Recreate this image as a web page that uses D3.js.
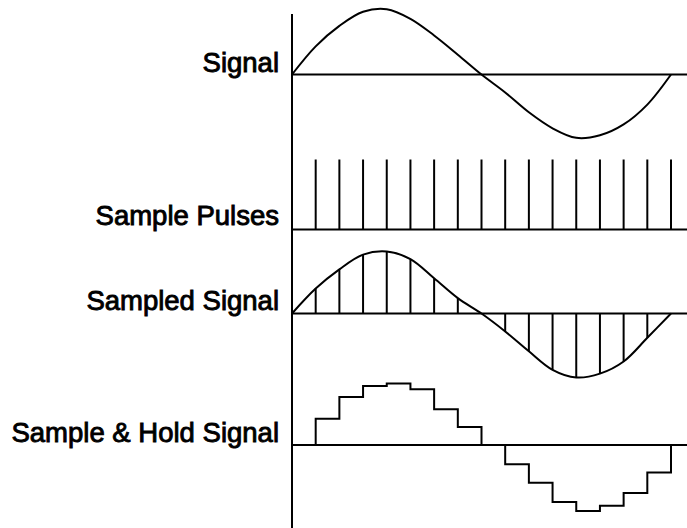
<!DOCTYPE html>
<html>
<head>
<meta charset="utf-8">
<script src="https://cdn.jsdelivr.net/npm/d3@7"></script>
<style>
  body { margin: 0; background: #fff; }
  text { font-family: "Liberation Sans", Arial, sans-serif; }
</style>
</head>
<body>
<div id="chart"></div>
<script>
// sample positions (one period split in 16 steps)
const steps = [0, 1, 2, 3, 4, 5, 6, 7, 8, 9, 10, 11, 12, 13, 14, 15, 16];

// values, 1 = peak amplitude
const signalValues = [0, 0.44, 0.76, 0.98, 1.02, 0.87, 0.61, 0.31, 0, -0.28, -0.59, -0.84, -0.99, -0.95, -0.78, -0.47, 0];
const sampledValues = [0, 0.39, 0.69, 0.92, 0.97, 0.85, 0.55, 0.24, 0, -0.28, -0.59, -0.88, -1.0, -0.94, -0.75, -0.38, 0];
const holdValues = [0, 0.41, 0.75, 0.92, 0.96, 0.87, 0.56, 0.28, 0, -0.30, -0.59, -0.89, -1.03, -0.95, -0.75, -0.43, 0];
const pulseSteps = [1, 2, 3, 4, 5, 6, 7, 8, 9, 10, 11, 12, 13, 14, 15, 16];

const labels = ["Signal", "Sample Pulses", "Sampled Signal", "Sample & Hold Signal"];

var width = 687, height = 528;
var axisX = 292;
var baselines = [74.5, 229.5, 313.5, 445];
var amp = 64;

const svg = d3.select("#chart")
    .append("svg")
    .attr("width", width)
    .attr("height", height);

var xScale = d3.scaleLinear()
    .domain([0, 16])
    .range([axisX, 671]);

function yScale(i) {
    return d3.scaleLinear()
        .domain([-1, 1])
        .range([baselines[i] + amp, baselines[i] - amp]);
}

// vertical axis
svg.append("line")
    .attr("x1", axisX).attr("x2", axisX)
    .attr("y1", 14).attr("y2", height)
    .attr("stroke", "black")
    .attr("stroke-width", 2);

// baselines
svg.selectAll(".base")
    .data(baselines)
    .enter().append("line")
    .attr("x1", axisX).attr("x2", width)
    .attr("y1", d => d).attr("y2", d => d)
    .attr("stroke", "black")
    .attr("stroke-width", 2);

// labels
var labelOffsets = [-3, -5, -4, -3];
svg.selectAll(".label")
    .data(labels)
    .enter().append("text")
    .attr("x", 279)
    .attr("y", (d, i) => baselines[i] + labelOffsets[i])
    .attr("text-anchor", "end")
    .attr("font-size", 27.5)
    .attr("fill", "black")
    .attr("stroke", "black")
    .attr("stroke-width", 0.9)
    .text(d => d);

// signal
var y0 = yScale(0);
svg.append("path")
    .datum(steps)
    .attr("d", d3.line()
        .x(d => xScale(d))
        .y(d => y0(signalValues[d]))
        .curve(d3.curveCatmullRom))
    .attr("fill", "none")
    .attr("stroke", "black")
    .attr("stroke-width", 2);

// sample pulses
svg.selectAll(".pulse")
    .data(pulseSteps)
    .enter().append("line")
    .attr("x1", d => xScale(d)).attr("x2", d => xScale(d))
    .attr("y1", baselines[1]).attr("y2", baselines[1] - 70)
    .attr("stroke", "black")
    .attr("stroke-width", 2);

// sampled signal
var y2 = yScale(2);
svg.append("path")
    .datum(steps)
    .attr("d", d3.line()
        .x(d => xScale(d))
        .y(d => y2(sampledValues[d]))
        .curve(d3.curveCatmullRom))
    .attr("fill", "none")
    .attr("stroke", "black")
    .attr("stroke-width", 2);

svg.selectAll(".sample")
    .data(steps.filter(d => sampledValues[d] !== 0))
    .enter().append("line")
    .attr("x1", d => xScale(d)).attr("x2", d => xScale(d))
    .attr("y1", y2(0)).attr("y2", d => y2(sampledValues[d]))
    .attr("stroke", "black")
    .attr("stroke-width", 2);

// sample & hold
var y3 = yScale(3);
var holdPts = [{k: 1, v: 0}].concat(pulseSteps.map(k => ({k: k, v: holdValues[k]})));
svg.append("path")
    .datum(holdPts)
    .attr("d", d3.line()
        .x(d => xScale(d.k))
        .y(d => y3(d.v))
        .curve(d3.curveStepAfter))
    .attr("fill", "none")
    .attr("stroke", "black")
    .attr("stroke-width", 2);
</script>
</body>
</html>
